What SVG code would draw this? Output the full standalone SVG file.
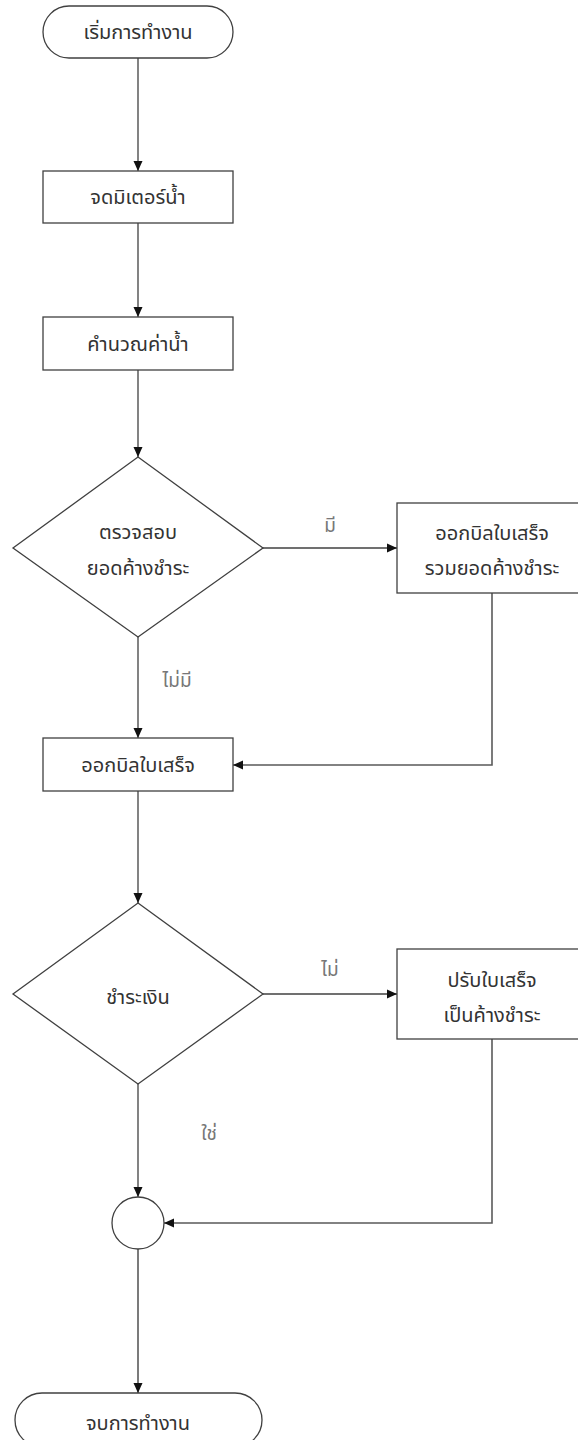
<svg xmlns="http://www.w3.org/2000/svg" width="578" height="1440" viewBox="0 0 578 1440">
  <style>
    .shape { fill: #ffffff; stroke: #404040; stroke-width: 1.3; }
    .conn { fill: none; stroke: #404040; stroke-width: 1.3; }
    .conn2 { fill: none; stroke: #5a5a5a; stroke-width: 1.6; }
    .t { font-family: Tahoma, "Noto Sans Thai", "Noto Sans", "DejaVu Sans", sans-serif; font-size: 20px; fill: #333333; text-anchor: middle; }
    .lbl { font-family: Tahoma, "Noto Sans Thai", "Noto Sans", "DejaVu Sans", sans-serif; font-size: 19px; fill: #777777; text-anchor: middle; }
  </style>
  <defs>
    <marker id="arr" markerUnits="userSpaceOnUse" markerWidth="10" markerHeight="10" viewBox="0 0 10 10" refX="10" refY="5" orient="auto">
      <path d="M0,0.5 L10,5 L0,9.5 Z" fill="#111111"/>
    </marker>
  </defs>
  <rect width="578" height="1440" fill="#ffffff"/>

  <g id="connectors">
    <line class="conn" x1="138" y1="58" x2="138" y2="171" marker-end="url(#arr)"/>
    <line class="conn" x1="138" y1="223" x2="138" y2="317" marker-end="url(#arr)"/>
    <line class="conn" x1="138" y1="370" x2="138" y2="457" marker-end="url(#arr)"/>
    <line class="conn" x1="263" y1="548" x2="397" y2="548" marker-end="url(#arr)"/>
    <line class="conn" x1="138" y1="637" x2="138" y2="738" marker-end="url(#arr)"/>
    <polyline class="conn2" points="492,593 492,765 233,765" marker-end="url(#arr)"/>
    <line class="conn" x1="138" y1="791" x2="138" y2="903" marker-end="url(#arr)"/>
    <line class="conn" x1="263" y1="994" x2="397" y2="994" marker-end="url(#arr)"/>
    <line class="conn" x1="138" y1="1084" x2="138" y2="1197" marker-end="url(#arr)"/>
    <polyline class="conn2" points="492,1039 492,1223 164,1223" marker-end="url(#arr)"/>
    <line class="conn2" x1="138" y1="1249" x2="138" y2="1393" marker-end="url(#arr)"/>
    <text class="lbl" x="330" y="532">มี</text>
    <text class="lbl" x="177" y="687">ไม่มี</text>
    <text class="lbl" x="330" y="976">ไม่</text>
    <text class="lbl" x="209" y="1140">ใช่</text>
  </g>

  <g id="start">
    <rect class="shape" x="43" y="6" width="190" height="52" rx="26" ry="26"/>
    <text class="t" x="138" y="39">เริ่มการทำงาน</text>
  </g>
  <g id="read-meter">
    <rect class="shape" x="43" y="171" width="190" height="52"/>
    <text class="t" x="138" y="204">จดมิเตอร์น้ำ</text>
  </g>
  <g id="calc">
    <rect class="shape" x="43" y="317" width="190" height="53"/>
    <text class="t" x="138" y="351">คำนวณค่าน้ำ</text>
  </g>
  <g id="check-arrears">
    <polygon class="shape" points="138,457 263,548 138,637 13,548"/>
    <text class="t" x="138" y="539">ตรวจสอบ</text>
    <text class="t" x="138" y="575">ยอดค้างชำระ</text>
  </g>
  <g id="bill-with-arrears">
    <rect class="shape" x="397" y="503" width="190" height="90"/>
    <text class="t" x="492" y="540">ออกบิลใบเสร็จ</text>
    <text class="t" x="492" y="575">รวมยอดค้างชำระ</text>
  </g>
  <g id="bill">
    <rect class="shape" x="43" y="738" width="190" height="53"/>
    <text class="t" x="138" y="772">ออกบิลใบเสร็จ</text>
  </g>
  <g id="pay">
    <polygon class="shape" points="138,903 263,994 138,1084 13,994"/>
    <text class="t" x="138" y="1004">ชำระเงิน</text>
  </g>
  <g id="mark-arrears">
    <rect class="shape" x="397" y="949" width="190" height="90"/>
    <text class="t" x="492" y="987">ปรับใบเสร็จ</text>
    <text class="t" x="492" y="1022">เป็นค้างชำระ</text>
  </g>
  <g id="join">
    <circle class="shape" cx="138" cy="1223" r="26"/>
  </g>
  <g id="end">
    <rect class="shape" x="15" y="1393" width="247" height="54" rx="27" ry="27"/>
    <text class="t" x="138" y="1430">จบการทำงาน</text>
  </g>
</svg>
